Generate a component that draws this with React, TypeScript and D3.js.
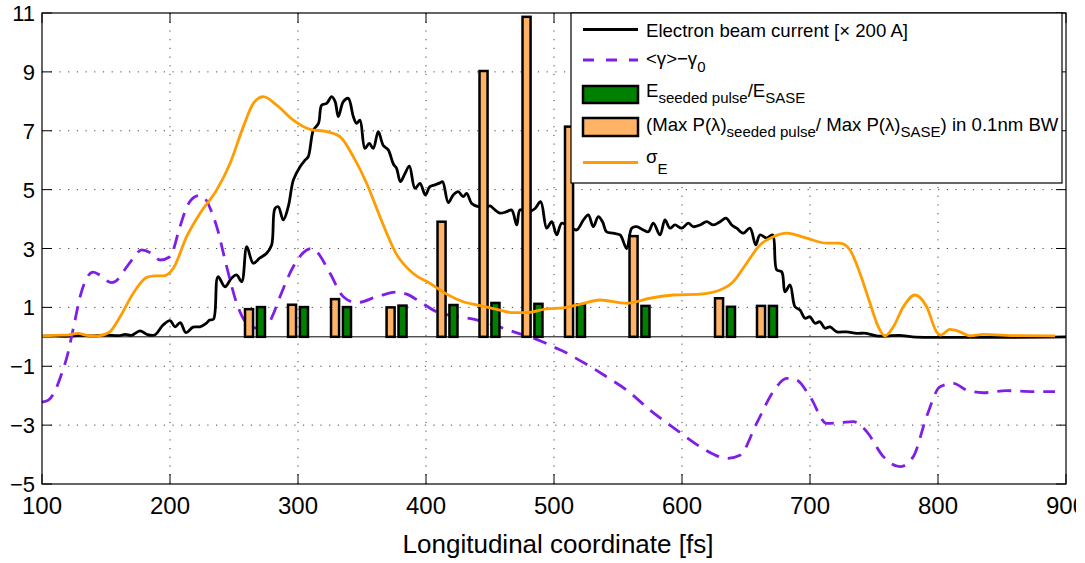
import React from "react";
import * as d3 from "d3";

// ---- data ----
const xTicks = [100, 200, 300, 400, 500, 600, 700, 800, 900];
const yTicks = [-5, -3, -1, 1, 3, 5, 7, 9, 11];

const currentX = [100, 110, 120, 130, 140, 150, 160, 165, 170, 176.6, 182, 188, 194.6, 200, 204, 208, 212.5, 218, 223.4, 228, 231, 234, 237.5, 243, 248, 252, 256, 260, 265, 270, 275.5, 279.4, 282, 284.6, 288.5, 292.4, 296.4, 301.6, 305.5, 308, 312, 316, 318.5, 322.4, 326.3, 329, 331.5, 335.4, 339.3, 343.2, 345.8, 348.4, 352.3, 355.7, 358.8, 362.7, 366.6, 370.5, 374.5, 377, 380, 383.6, 387, 391.4, 395.3, 399.5, 403, 407, 411, 413, 417.4, 421.3, 425.2, 429, 431.8, 435.7, 440.9, 447, 450, 453.9, 457.8, 463, 466.9, 470.9, 473.4, 478, 482, 485.2, 489.6, 494.3, 498.2, 502.1, 506, 512, 517.7, 523, 526.8, 530.7, 534.6, 538, 541, 546.3, 551.6, 556.8, 560.7, 564.6, 569.8, 573.7, 577.6, 582.8, 586.7, 590.6, 594.5, 599.8, 604.9, 608.8, 614, 619.3, 624.5, 629.7, 634.4, 638.8, 642.7, 647.9, 653.1, 657.6, 660.9, 666.2, 670.8, 674, 677.9, 680.5, 684.4, 688.3, 692.2, 696.1, 700, 703.9, 707.8, 711.7, 715.6, 720.9, 728.7, 736.5, 744, 752, 760, 770, 780, 900];
const currentY = [0.02, 0.03, 0.02, 0.05, 0.03, 0.06, 0.04, 0.08, 0.05, 0.2, 0.08, 0.06, 0.4, 0.55, 0.34, 0.48, 0.14, 0.33, 0.34, 0.45, 0.57, 0.6, 2.04, 1.7, 1.99, 2.1, 1.87, 3.06, 2.5, 2.67, 2.84, 3.12, 4.36, 4.42, 3.97, 4.42, 5.33, 5.78, 6.0, 6.12, 7.02, 7.25, 7.87, 7.93, 8.16, 7.99, 7.48, 7.99, 8.1, 7.48, 7.25, 7.36, 6.4, 6.57, 6.4, 6.97, 6.5, 6.35, 5.87, 5.72, 5.27, 5.55, 5.8, 5.04, 5.21, 4.82, 5.1, 5.16, 5.23, 5.27, 4.56, 4.82, 4.93, 4.76, 4.87, 4.53, 4.42, 4.4, 4.45, 4.31, 4.2, 4.25, 4.31, 3.8, 4.31, 4.3, 4.28, 4.36, 4.59, 3.69, 3.91, 3.46, 3.86, 3.75, 3.63, 3.97, 4.14, 3.74, 4.08, 3.9, 3.57, 3.52, 3.46, 3.0, 3.69, 3.74, 3.63, 3.57, 3.86, 3.46, 3.97, 3.69, 3.8, 3.69, 3.86, 3.74, 3.8, 3.91, 3.8, 3.91, 4.03, 3.8, 3.69, 3.52, 3.69, 3.12, 3.46, 3.35, 3.46, 2.27, 2.21, 1.53, 1.76, 1.02, 0.91, 0.63, 0.68, 0.46, 0.51, 0.29, 0.34, 0.17, 0.17, 0.12, 0.12, 0.03, 0.03, 0.05, 0.0, 0.0];

const gammaX = [100, 105, 110, 115, 120, 125, 130, 135, 140, 145, 150, 154.5, 158, 163.5, 170, 177.9, 185, 192.2, 200, 207.8, 213, 219.5, 223, 227.3, 232, 236.5, 244.3, 252.1, 259.9, 267, 275.5, 280, 285.9, 296.3, 306.8, 310, 314.6, 325, 335.4, 345.8, 361.5, 377, 385, 395.3, 408.3, 420, 437, 450, 460.4, 473.4, 481, 490, 500, 510, 520, 530, 541.1, 556.8, 575, 595.9, 614, 625, 634.9, 645.3, 658.3, 671.3, 681.8, 689.6, 700, 713, 723.4, 733.8, 744.3, 757.3, 770.3, 780.7, 791.1, 801.6, 812, 822.4, 835.4, 853.7, 874.5, 891.4];
const gammaY = [-2.22, -2.15, -1.85, -1.3, -0.6, 0.4, 1.4, 2.0, 2.2, 2.1, 1.92, 1.84, 1.9, 2.21, 2.6, 2.95, 2.85, 2.61, 2.72, 3.74, 4.4, 4.76, 4.8, 4.7, 4.3, 3.74, 2.38, 1.14, 0.46, 0.3, 0.34, 0.7, 1.36, 2.38, 2.95, 3.0, 2.89, 2.16, 1.36, 1.16, 1.36, 1.52, 1.45, 1.19, 0.85, 0.72, 0.6, 0.45, 0.29, 0.1, 0, -0.15, -0.35, -0.55, -0.8, -1.05, -1.36, -1.81, -2.49, -3.17, -3.73, -4.0, -4.13, -4.02, -2.94, -1.86, -1.41, -1.47, -2.03, -2.94, -2.92, -2.88, -3.22, -4.07, -4.41, -4.07, -2.71, -1.7, -1.58, -1.81, -1.9, -1.83, -1.86, -1.86];

const sigmaX = [100, 110, 120, 128, 135, 142, 145.3, 150, 153, 161, 171.3, 181.8, 188, 194.8, 202.6, 213, 223.4, 236.5, 246.9, 257.3, 265.1, 272.9, 283.4, 296.3, 309.4, 322.4, 332.8, 343.2, 353.7, 364, 377, 390, 403, 416.1, 429.1, 442.2, 455.2, 468.2, 478.7, 494.3, 507, 520, 535.9, 556.8, 575, 593.2, 614, 629.7, 640, 650.5, 660.9, 671.3, 681.8, 697.4, 713, 723.4, 731.2, 739, 746.9, 753.4, 758.6, 765.1, 772.9, 782, 791.1, 798.9, 802.1, 809.4, 817.2, 825, 835.4, 861.5, 891.4];
const sigmaY = [0.03, 0.05, 0.06, 0.12, 0.05, 0.03, 0.04, 0.1, 0.17, 0.68, 1.48, 2.02, 2.07, 2.07, 2.33, 3.4, 4.19, 4.99, 5.89, 7.14, 7.93, 8.16, 7.87, 7.36, 7.05, 6.97, 6.8, 6.12, 5.21, 4.08, 2.8, 2.15, 1.82, 1.45, 1.19, 1.06, 0.93, 0.82, 0.82, 0.95, 0.98, 1.1, 1.25, 1.14, 1.31, 1.42, 1.45, 1.59, 1.87, 2.5, 3.12, 3.4, 3.52, 3.35, 3.18, 3.18, 2.95, 2.16, 1.14, 0.34, 0.03, 0.34, 1.02, 1.42, 1.02, 0.17, 0.06, 0.25, 0.17, 0.03, 0.08, 0.04, 0.03];

const barPos = [266.4, 300, 333.6, 377, 416.8, 449.6, 483.2, 516.4, 566.8, 633.6, 666.4];
const barMaxP = [0.94, 1.09, 1.28, 1.0, 3.91, 9.03, 10.87, 7.14, 3.42, 1.31, 1.05];
const barEnergy = [1.01, 1.01, 1.01, 1.06, 1.08, 1.15, 1.12, 1.1, 1.05, 1.02, 1.05];

// ---- style ----
const W = 1076;
const H = 563;
const FONT = "'Liberation Sans', Arial, Helvetica, sans-serif";
const C_PURPLE = "#7f1fe6";
const C_ORANGE = "#ff9c00";
const C_BAR_OR = "#ffb366";
const C_BAR_GR = "#008000";
const LW = 2.8;

export default function App() {
  const x = d3.scaleLinear().domain([100, 900]).range([42, 1066]);
  const y = d3.scaleLinear().domain([-5, 11]).range([484, 13]);
  const [x0, x1] = x.range();
  const [yb, yt] = y.range();

  const mk = (xs: number[], ys: number[], curve: any) =>
    d3
      .line<number>()
      .x((_, i) => x(xs[i]))
      .y((_, i) => y(ys[i]))
      .curve(curve)(xs) as string;

  const currentPath = mk(currentX, currentY, d3.curveCatmullRom.alpha(0.5));
  const gammaPath = mk(gammaX, gammaY, d3.curveMonotoneX);
  const sigmaPath = mk(sigmaX, sigmaY, d3.curveMonotoneX);

  const gap = 1.5;
  const bw = 6.3;

  return (
    <svg
      width={W}
      height={H}
      style={{ position: "absolute", left: 0, top: 0, background: "#fff", fontFamily: FONT }}
    >
      <rect x={0} y={0} width={W} height={H} fill="#fff" />
      {/* grid */}
      {xTicks.slice(1, -1).map((t) => (
        <line key={"gx" + t} x1={x(t)} x2={x(t)} y1={yb} y2={yt} stroke="#444" strokeWidth={1} strokeDasharray="1.2,7.5" />
      ))}
      {yTicks.slice(1, -1).map((t) => (
        <line key={"gy" + t} x1={x0} x2={x1} y1={y(t)} y2={y(t)} stroke="#444" strokeWidth={1} strokeDasharray="1.2,7.5" />
      ))}
      {/* bar baseline */}
      <line x1={x0} x2={x1} y1={y(0)} y2={y(0)} stroke="#000" strokeWidth={1} />
      {/* black current */}
      <path d={currentPath} fill="none" stroke="#000" strokeWidth={LW} strokeLinejoin="round" />
      {/* purple dashed */}
      <path d={gammaPath} fill="none" stroke={C_PURPLE} strokeWidth={LW} strokeDasharray="14,9" />
      {/* bars */}
      {barPos.map((c, i) => (
        <g key={"b" + i}>
          <rect
            x={x(c - gap - bw)}
            y={y(barMaxP[i])}
            width={x(c - gap) - x(c - gap - bw)}
            height={y(0) - y(barMaxP[i])}
            fill={C_BAR_OR}
            stroke="#000"
            strokeWidth={2.5}
          />
          <rect
            x={x(c + gap)}
            y={y(barEnergy[i])}
            width={x(c + gap + bw) - x(c + gap)}
            height={y(0) - y(barEnergy[i])}
            fill={C_BAR_GR}
            stroke="#000"
            strokeWidth={2.5}
          />
        </g>
      ))}
      {/* orange sigma */}
      <path d={sigmaPath} fill="none" stroke={C_ORANGE} strokeWidth={LW} />
      {/* axes frame */}
      <rect x={x0} y={yt} width={x1 - x0} height={yb - yt} fill="none" stroke="#000" strokeWidth={1.2} />
      {/* ticks */}
      {xTicks.map((t) => (
        <g key={"tx" + t}>
          <line x1={x(t)} x2={x(t)} y1={yb} y2={yb - 10} stroke="#000" strokeWidth={1} />
          <line x1={x(t)} x2={x(t)} y1={yt} y2={yt + 10} stroke="#000" strokeWidth={1} />
          <text x={x(t)} y={514} fontSize={24} textAnchor="middle" fill="#000">
            {t}
          </text>
        </g>
      ))}
      {yTicks.map((t) => (
        <g key={"ty" + t}>
          <line x1={x0} x2={x0 + 10} y1={y(t)} y2={y(t)} stroke="#000" strokeWidth={1} />
          <line x1={x1} x2={x1 - 10} y1={y(t)} y2={y(t)} stroke="#000" strokeWidth={1} />
          <text x={35} y={y(t) + 8} fontSize={22} textAnchor="end" fill="#000">
            {t < 0 ? "\u2212" + Math.abs(t) : t}
          </text>
        </g>
      ))}
      <text x={558} y={553} fontSize={26} textAnchor="middle" fill="#000">
        Longitudinal coordinate [fs]
      </text>
      {/* legend */}
      <g>
        <rect x={571} y={13} width={491} height={170} fill="#fff" stroke="#000" strokeWidth={1.2} />
        <line x1={583} x2={638} y1={29.5} y2={29.5} stroke="#000" strokeWidth={LW} />
        <text x={646} y={37} fontSize={18.6}>
          Electron beam current [× 200 A]
        </text>
        <line x1={583} x2={638} y1={60} y2={60} stroke={C_PURPLE} strokeWidth={LW} strokeDasharray="11,12" />
        <text x={646} y={65} fontSize={18.6}>
          {"<γ>−γ"}
          <tspan dy={7} fontSize={15}>0</tspan>
        </text>
        <rect x={583} y={86} width={55} height={17} fill={C_BAR_GR} stroke="#000" strokeWidth={2.5} />
        <text x={646} y={97} fontSize={18.6}>
          E<tspan dy={6} fontSize={15}>seeded pulse</tspan>
          <tspan dy={-6}>/E</tspan>
          <tspan dy={6} fontSize={15}>SASE</tspan>
        </text>
        <rect x={583} y={118} width={55} height={18} fill={C_BAR_OR} stroke="#000" strokeWidth={2.5} />
        <text x={646} y={131} fontSize={18.6}>
          (Max P(λ)<tspan dy={6} fontSize={15}>seeded pulse</tspan>
          <tspan dy={-6}>/ Max P(λ)</tspan>
          <tspan dy={6} fontSize={15}>SASE</tspan>
          <tspan dy={-6}>) in 0.1nm BW</tspan>
        </text>
        <line x1={583} x2={638} y1={162.5} y2={162.5} stroke={C_ORANGE} strokeWidth={LW} />
        <text x={646} y={163} fontSize={18.6}>
          σ<tspan dy={11} fontSize={15}>E</tspan>
        </text>
      </g>
    </svg>
  );
}
